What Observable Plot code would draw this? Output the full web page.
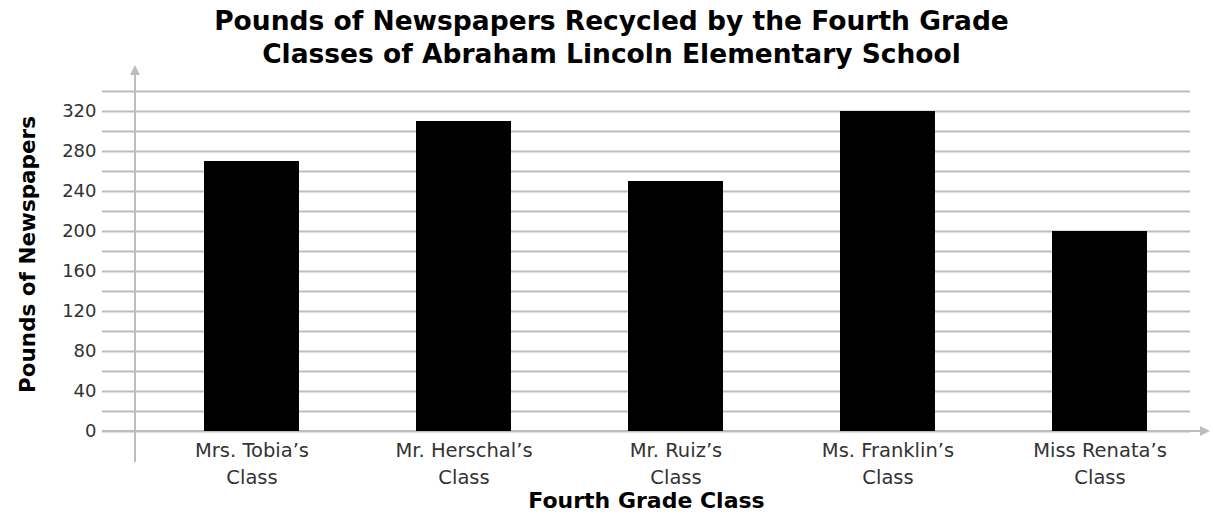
<!DOCTYPE html>
<html>
<head>
<meta charset="utf-8">
<script src="https://cdn.jsdelivr.net/npm/d3@7"></script>
<script src="https://cdn.jsdelivr.net/npm/@observablehq/plot@0.6"></script>
<style>
  html, body { margin: 0; padding: 0; background: #fff; }
  #title { height: 62px; box-sizing: border-box; padding-top: 4px; text-align: center;
           font-family: "DejaVu Sans", sans-serif; font-weight: bold; font-size: 26.5px;
           line-height: 33px; color: #000; width: 1213px; }
  #title div { margin-left: 10px; }
</style>
</head>
<body>
<div id="title"><div>Pounds of Newspapers Recycled by the Fourth Grade</div><div>Classes of Abraham Lincoln Elementary School</div></div>
<div id="chart"></div>
<script>
const categories = ["Mrs. Tobia’s Class", "Mr. Herschal’s Class", "Mr. Ruiz’s Class", "Ms. Franklin’s Class", "Miss Renata’s Class"];
const pounds = [270, 310, 250, 320, 200];
const yTickLabels = [0, 40, 80, 120, 160, 200, 240, 280, 320];
const gridValues = d3.range(0, 341, 20);

const data = categories.map((c, i) => ({cls: c, pounds: pounds[i]}));

const W = 1213, H = 457, ML = 102, MR = 23, MT = 29, MB = 88;
const gray = "#bdbdbd";

const axesMark = (index, scales, values, dims) => {
  const g = d3.create("svg:g");
  const y0 = scales.y(0);
  const yTop = scales.y(340);
  const xAxis = ML + 33;
  g.append("line").attr("x1", xAxis).attr("x2", xAxis).attr("y1", yTop - 20).attr("y2", y0 + 31)
    .attr("stroke", gray).attr("stroke-width", 2);
  g.append("path").attr("d", `M${xAxis},${yTop - 26} l-5,10 l10,0 z`).attr("fill", gray);
  const xEnd = dims.width - 3;
  g.append("line").attr("x1", ML).attr("x2", xEnd - 6).attr("y1", y0).attr("y2", y0)
    .attr("stroke", gray).attr("stroke-width", 2);
  g.append("path").attr("d", `M${xEnd},${y0} l-10,-5 l0,10 z`).attr("fill", gray);
  return g.node();
};

const chart = Plot.plot({
  width: W, height: H,
  marginLeft: ML, marginRight: MR, marginTop: MT, marginBottom: MB,
  style: {fontFamily: "DejaVu Sans, sans-serif", background: "#fff"},
  x: {domain: categories, range: [146, 1206], paddingInner: 0.55, paddingOuter: 0.275, label: null},
  y: {domain: [0, 340], label: null},
  marks: [
    Plot.ruleY(gridValues, {stroke: gray, strokeWidth: 2, strokeOpacity: 1}),
    axesMark,
    Plot.barY(data, {x: "cls", y: "pounds", fill: "#000"}),
    Plot.axisY({ticks: yTickLabels, tickSize: 0, tickPadding: 6, fontSize: 18, fill: "#333", label: null}),
    Plot.axisX({tickSize: 0, tickPadding: 7, fontSize: 19.5, fill: "#333", lineHeight: 1.35,
      tickFormat: d => d.replace(" Class", "\nClass"), label: null}),
    Plot.text(["Pounds of Newspapers"], {frameAnchor: "left", textAnchor: "middle", dx: -74, dy: -7, rotate: -90, fontSize: 21.5, fontWeight: "bold", fill: "#000"}),
    Plot.text(["Fourth Grade Class"], {frameAnchor: "bottom", dy: 76, fontSize: 22, fontWeight: "bold", fill: "#000"})
  ]
});
document.getElementById("chart").appendChild(chart);
</script>
</body>
</html>
